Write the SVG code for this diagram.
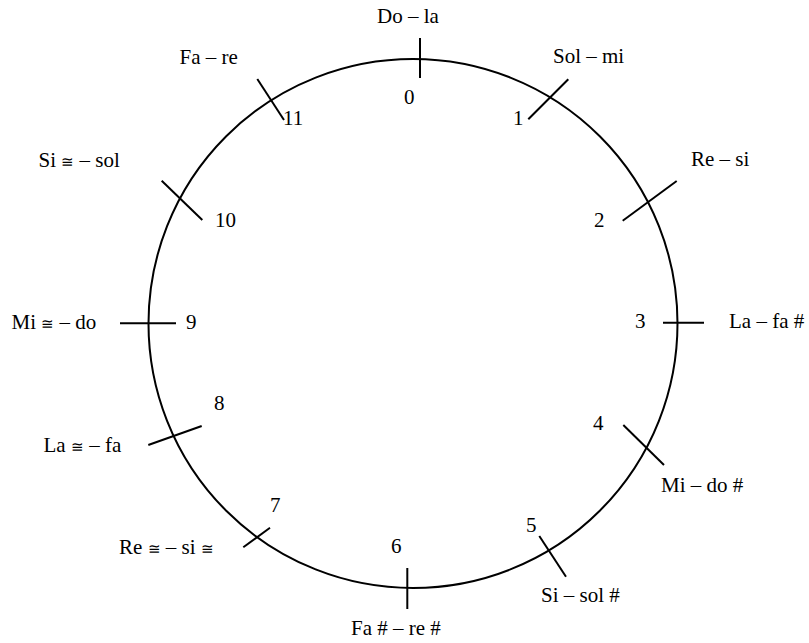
<svg xmlns="http://www.w3.org/2000/svg" width="809" height="643" viewBox="0 0 809 643">
<style>
.k{stroke:#000;stroke-width:2;fill:none}
</style>
<rect width="809" height="643" fill="#fff"/>
<g id="circle"><circle class="k" cx="413" cy="323.5" r="264.5"/></g>
<g id="connectors">
<line class="k" x1="420" y1="38" x2="420" y2="78"/>
<line class="k" x1="528.3" y1="119.3" x2="568.3" y2="79.3"/>
<line class="k" x1="622.7" y1="220.7" x2="676.7" y2="181"/>
<line class="k" x1="663" y1="322.7" x2="704" y2="322.7"/>
<line class="k" x1="623.3" y1="425" x2="664" y2="465"/>
<line class="k" x1="539.3" y1="536" x2="566" y2="576.7"/>
<line class="k" x1="407.3" y1="568" x2="407.3" y2="609"/>
<line class="k" x1="243.3" y1="547.3" x2="270" y2="527.7"/>
<line class="k" x1="148.3" y1="445" x2="201.7" y2="426"/>
<line class="k" x1="120" y1="323.3" x2="176" y2="323.3"/>
<line class="k" x1="161.7" y1="180.7" x2="202.3" y2="220"/>
<line class="k" x1="257.3" y1="79" x2="284" y2="120"/>
</g>
<g font-family="Liberation Serif" font-size="21" fill="#000">
<g id="n0"><text x="377" y="23.3">Do – la</text><text x="404" y="104">0</text></g>
<g id="n1"><text x="553" y="63.3">Sol – mi</text><text x="513" y="125">1</text></g>
<g id="n2"><text x="691" y="166">Re – si</text><text x="594" y="226.7">2</text></g>
<g id="n3"><text x="729" y="328.3">La – fa #</text><text x="635" y="328.3">3</text></g>
<g id="n4"><text x="661" y="492.3">Mi – do #</text><text x="593" y="430">4</text></g>
<g id="n5"><text x="541" y="602.3">Si – sol #</text><text x="526" y="531.7">5</text></g>
<g id="n6"><text x="351" y="635">Fa # – re #</text><text x="391" y="552.7">6</text></g>
<g id="n7"><text x="119" y="554">Re <tspan font-size="15">≅</tspan> – si <tspan font-size="15">≅</tspan></text><text x="270" y="512.3">7</text></g>
<g id="n8"><text x="43.5" y="451.7">La <tspan font-size="15">≅</tspan> – fa</text><text x="214" y="410">8</text></g>
<g id="n9"><text x="11.5" y="328.7">Mi <tspan font-size="15">≅</tspan> – do</text><text x="186" y="329.3">9</text></g>
<g id="n10"><text x="38.5" y="166.7">Si <tspan font-size="15">≅</tspan> – sol</text><text x="215" y="226.7">10</text></g>
<g id="n11"><text x="179.5" y="64">Fa – re</text><text x="283" y="125">11</text></g>
</g>
</svg>
